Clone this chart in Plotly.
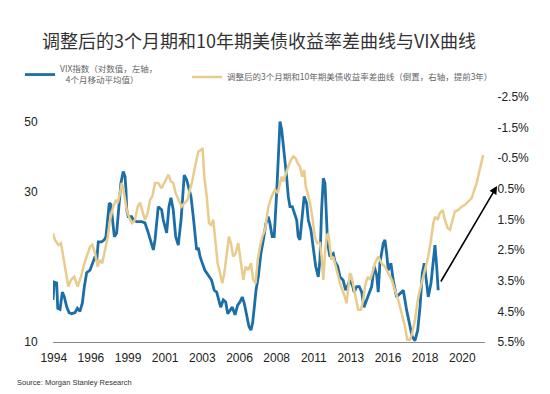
import plotly.graph_objects as go

# ---------------- data ----------------
vix_year = [1994.0, 1994.08, 1994.24, 1994.31, 1994.46, 1994.61, 1994.74, 1994.90, 1995.05, 1995.22,
            1995.44, 1995.59, 1995.76, 1995.92, 1996.05, 1996.20, 1996.42, 1996.59, 1996.75, 1996.86,
            1996.96, 1997.18, 1997.35, 1997.46, 1997.58, 1997.68, 1997.79, 1997.90, 1998.01, 1998.16,
            1998.31, 1998.44, 1998.59, 1998.71, 1998.77, 1998.82, 1998.92, 1999.14, 1999.25, 1999.47,
            1999.80, 2000.01, 2000.23, 2000.41, 2000.56, 2000.67, 2000.84, 2000.88, 2001.10, 2001.21,
            2001.43, 2001.58, 2001.71, 2001.86, 2002.02, 2002.19, 2002.37, 2002.52, 2002.58, 2002.74,
            2002.89, 2003.02, 2003.17, 2003.33, 2003.39, 2003.50, 2003.61, 2003.76, 2003.93, 2004.15,
            2004.37, 2004.54, 2004.70, 2004.80, 2004.96, 2005.13, 2005.29, 2005.42, 2005.57, 2005.72,
            2005.90, 2006.07, 2006.22, 2006.37, 2006.50, 2006.66, 2006.81, 2006.94, 2007.05, 2007.16,
            2007.27, 2007.42, 2007.59, 2007.75, 2007.92, 2008.07, 2008.18, 2008.33, 2008.46, 2008.62,
            2008.73, 2008.84, 2008.95, 2009.05, 2009.16, 2009.27, 2009.38, 2009.49, 2009.64, 2009.77,
            2009.93, 2010.03, 2010.14, 2010.29, 2010.42, 2010.58, 2010.69, 2010.86, 2011.01, 2011.17,
            2011.34, 2011.45, 2011.56, 2011.67, 2011.78, 2011.84, 2011.95, 2012.10, 2012.32, 2012.43,
            2012.61, 2012.76, 2012.97, 2013.13, 2013.26, 2013.41, 2013.56, 2013.69, 2013.85, 2014.02,
            2014.18, 2014.33, 2014.50, 2014.65, 2014.83, 2015.00, 2015.16, 2015.26, 2015.37, 2015.59,
            2015.70, 2015.81, 2015.92, 2016.09, 2016.24, 2016.46, 2016.68, 2016.90, 2017.12, 2017.33,
            2017.48, 2017.66, 2017.84, 2017.99, 2018.14, 2018.27, 2018.38, 2018.53, 2018.71, 2018.86,
            2018.97, 2019.08, 2019.18]
vix_value = [13.6, 15.5, 15.4, 12.8, 12.7, 14.4, 13.9, 12.9, 12.4, 12.3,
             12.4, 12.8, 12.5, 13.3, 15.0, 16.6, 16.9, 17.8, 18.7, 18.2,
             20.8, 20.8, 21.1, 21.6, 24.4, 27.6, 27.3, 23.9, 21.6, 22.2,
             26.3, 32.0, 34.8, 33.5, 30.4, 26.3, 25.0, 25.0, 24.4, 24.1,
             24.1, 23.9, 22.2, 20.6, 19.6, 21.1, 26.3, 26.9, 26.3, 24.4,
             22.2, 26.9, 28.7, 26.3, 21.6, 20.3, 24.4, 31.2, 33.9, 32.7,
             30.4, 29.0, 25.0, 20.6, 19.6, 19.9, 18.7, 17.8, 16.9, 16.3,
             15.7, 14.6, 14.4, 13.8, 12.9, 13.6, 13.4, 12.3, 12.6, 12.9,
             12.2, 13.1, 13.4, 13.9, 13.3, 12.0, 11.2, 10.9, 11.5, 12.9,
             14.6, 16.1, 19.1, 21.1, 23.8, 25.0, 23.8, 21.6, 21.6, 29.7,
             39.8, 50.1, 47.2, 42.8, 38.8, 33.5, 29.0, 26.9, 26.9, 25.9,
             24.4, 21.6, 21.1, 25.0, 29.0, 27.6, 24.4, 22.7, 19.6, 17.4,
             16.1, 18.2, 26.3, 33.1, 31.9, 26.9, 20.6, 18.7, 19.1, 18.0,
             17.4, 16.1, 15.7, 14.6, 15.2, 15.7, 15.2, 14.4, 15.0, 15.0,
             14.4, 12.9, 13.6, 14.3, 15.0, 17.4, 16.3, 14.4, 17.8, 20.6,
             21.1, 19.1, 16.9, 17.8, 15.7, 13.9, 14.3, 14.6, 12.6, 11.2,
             10.4, 10.1, 10.9, 12.9, 16.5, 17.8, 15.7, 13.9, 15.4, 18.7,
             20.3, 17.4, 14.6]

spread_year = [1994.0, 1994.13, 1994.35, 1994.52, 1994.67, 1994.83, 1995.00, 1995.18, 1995.39, 1995.61,
               1995.83, 1996.05, 1996.27, 1996.42, 1996.57, 1996.75, 1996.92, 1997.07, 1997.22, 1997.40,
               1997.58, 1997.73, 1997.94, 1998.12, 1998.23, 1998.38, 1998.49, 1998.59, 1998.71, 1998.82,
               1999.03, 1999.18, 1999.36, 1999.54, 1999.69, 1999.84, 2000.01, 2000.19, 2000.34, 2000.49,
               2000.67, 2000.88, 2001.10, 2001.32, 2001.54, 2001.71, 2001.86, 2002.02, 2002.24, 2002.41,
               2002.58, 2002.80, 2002.95, 2003.10, 2003.24, 2003.39, 2003.50, 2003.67, 2003.78, 2003.89,
               2004.05, 2004.20, 2004.33, 2004.48, 2004.63, 2004.76, 2004.92, 2005.07, 2005.20, 2005.35,
               2005.50, 2005.63, 2005.78, 2005.94, 2006.11, 2006.29, 2006.44, 2006.59, 2006.76, 2006.94,
               2007.09, 2007.25, 2007.38, 2007.53, 2007.68, 2007.86, 2008.07, 2008.29, 2008.51, 2008.69,
               2008.84, 2008.95, 2009.05, 2009.21, 2009.38, 2009.56, 2009.71, 2009.86, 2009.99, 2010.14,
               2010.29, 2010.42, 2010.52, 2010.65, 2010.80, 2010.95, 2011.12, 2011.27, 2011.45, 2011.56,
               2011.67, 2011.78, 2011.89, 2011.99, 2012.10, 2012.21, 2012.32, 2012.48, 2012.61, 2012.76,
               2012.91, 2013.08, 2013.19, 2013.30, 2013.41, 2013.52, 2013.63, 2013.78, 2013.95, 2014.13,
               2014.28, 2014.39, 2014.57, 2014.72, 2014.87, 2015.05, 2015.26, 2015.48, 2015.70, 2015.92,
               2016.14, 2016.35, 2016.57, 2016.79, 2017.01, 2017.16, 2017.33, 2017.48, 2017.66, 2017.88,
               2018.10, 2018.31, 2018.53, 2018.71, 2018.86, 2018.97, 2019.14, 2019.29, 2019.47, 2019.62,
               2019.80, 2019.95, 2020.10, 2020.27, 2020.49, 2020.71, 2020.93, 2021.14, 2021.37, 2021.54,
               2021.69, 2021.84, 2021.97, 2022.12]
spread_value = [1.95, 2.17, 2.33, 2.27, 2.71, 3.25, 3.69, 3.47, 3.37, 3.69,
                3.37, 2.93, 2.60, 2.39, 2.33, 2.60, 3.04, 2.82, 2.93, 2.49,
                2.06, 1.51, 1.08, 0.86, 0.97, 0.64, 0.31, 0.48, 0.86, 1.19,
                1.51, 1.62, 1.51, 1.08, 0.95, 1.19, 1.51, 1.29, 0.86, 0.75,
                0.31, 0.31, 0.48, 0.26, 0.04, 0.26, 0.31, 0.64, 0.92, 1.08,
                0.97, 0.86, 0.53, 0.26, -0.12, -0.45, -0.72, -0.77, -0.83, 0.10,
                0.75, 1.62, 1.68, 1.51, 2.39, 2.93, 3.25, 3.58, 3.25, 2.71,
                2.06, 2.27, 2.71, 2.60, 2.27, 2.93, 3.47, 3.04, 3.15, 2.93,
                3.47, 3.58, 2.82, 2.39, 2.06, 1.84, 1.10, 0.75, 0.53, 0.64,
                0.31, 0.10, 0.26, -0.01, -0.23, -0.45, -0.56, -0.50, -0.34, -0.23,
                0.10, -0.12, 0.42, 0.64, 0.97, 1.41, 2.06, 2.27, 2.27, 2.71,
                3.47, 2.60, 2.06, 1.95, 2.49, 2.82, 2.71, 3.04, 3.25, 3.58,
                3.80, 4.02, 4.24, 3.80, 3.25, 3.37, 3.69, 4.02, 4.45, 4.45,
                4.13, 3.69, 3.37, 3.47, 3.25, 2.93, 2.71, 2.93, 3.04, 3.25,
                3.47, 3.80, 4.13, 4.56, 5.00, 5.43, 5.43, 5.22, 4.78, 4.02,
                3.58, 3.25, 2.71, 2.17, 1.62, 1.41, 1.51, 1.29, 1.19, 1.51,
                1.78, 1.84, 1.51, 1.24, 1.19, 1.08, 1.02, 0.92, 0.80, 0.53,
                0.31, -0.01, -0.34, -0.61]

x_tick_pos = [1994.05, 1996.48, 1998.91, 2001.33, 2003.76, 2006.19, 2008.62, 2011.05, 2013.47, 2015.90, 2018.33, 2020.76]
x_tick_text = ["1994", "1996", "1999", "2001", "2003", "2006", "2008", "2011", "2013", "2016", "2018", "2020"]
left_ticks = [10, 30, 50]
right_ticks = [-2.5, -1.5, -0.5, 0.5, 1.5, 2.5, 3.5, 4.5, 5.5]

BLUE = "#1b6fa6"
GOLD = "#e9cb8c"
CJK = "Noto Sans CJK SC"
LAT = "Liberation Sans, Arial, sans-serif"

# the page body adds an 8px offset; the figure is laid out in its own coordinates
W, H = 542, 386
OFF = 8
PL, PR, PT, PB = 53 - OFF, 485 - OFF, 97 - OFF, 342 - OFF   # plot box in figure px


def cx(px):  # screen px -> container fraction
    return (px - OFF) / W


def cy(py):
    return 1 - (py - OFF) / H


def px2paper_x(px):
    return (px - OFF - PL) / (PR - PL)


def py2paper_y(py):
    return (PB - (py - OFF)) / (PB - PT)


fig = go.Figure()
fig.add_trace(go.Scatter(
    x=spread_year, y=spread_value, mode="lines", yaxis="y2", legend="legend2",
    name="调整后的3个月期和10年期美债收益率差曲线（倒置，右轴，提前3年）",
    line=dict(color=GOLD, width=2.5)))
fig.add_trace(go.Scatter(
    x=vix_year, y=vix_value, mode="lines", yaxis="y", legend="legend",
    name="VIX指数（对数值，左轴，<br>   4个月移动平均值）",
    line=dict(color=BLUE, width=2.8)))

leg_common = dict(orientation="h", xref="container", yref="container", xanchor="left",
                  yanchor="middle", itemwidth=30,
                  font=dict(family=CJK, size=8.5, color="#666"), bgcolor="rgba(0,0,0,0)")

fig.update_layout(
    width=W, height=H,
    margin=dict(l=PL, r=W - PR, t=PT, b=H - PB, autoexpand=False),
    paper_bgcolor="white", plot_bgcolor="white",
    showlegend=True,
    legend=dict(leg_common, x=cx(20), y=cy(75)),
    legend2=dict(leg_common, x=cx(187), y=cy(77)),
    title=dict(text="调整后的3个月期和10年期美债收益率差曲线与VIX曲线",
               x=cx(42), xref="container", xanchor="left",
               y=cy(42), yref="container", yanchor="middle",
               font=dict(family=CJK, size=18, color="#333")),
    xaxis=dict(range=[1994.0, 2022.24], tickmode="array", tickvals=x_tick_pos, ticktext=x_tick_text,
               showgrid=False, zeroline=False, showline=True, linecolor="#8a8a8a", linewidth=1,
               ticks="outside", ticklen=5, tickcolor="rgba(0,0,0,0)",
               tickfont=dict(family=LAT, size=12, color="#222")),
    yaxis=dict(type="log", range=[1.0, 1.778], tickmode="array", tickvals=left_ticks,
               ticktext=[str(v) for v in left_ticks],
               showgrid=False, zeroline=False, showline=False,
               ticks="outside", ticklen=12, tickcolor="rgba(0,0,0,0)",
               tickfont=dict(family=LAT, size=12, color="#222")),
    yaxis2=dict(overlaying="y", side="right", range=[5.5, -2.5], tickmode="array",
                tickvals=right_ticks, ticktext=[f"{v:.1f}%" for v in right_ticks],
                showgrid=False, zeroline=False, showline=False,
                ticks="outside", ticklen=9, tickcolor="rgba(0,0,0,0)",
                tickfont=dict(family=LAT, size=12, color="#222")),
)

fig.add_annotation(xref="paper", yref="paper", x=px2paper_x(497), y=py2paper_y(186), ax=-57, ay=97,
                   text="", showarrow=True, arrowhead=2, arrowsize=1, arrowwidth=1.6,
                   arrowcolor="black")
fig.add_annotation(xref="paper", yref="paper", x=px2paper_x(15), y=py2paper_y(382),
                   xanchor="left", yanchor="middle",
                   text="Source: Morgan Stanley Research", showarrow=False,
                   font=dict(family=LAT, size=7.5, color="#333"))

fig.write_html("out.html")
